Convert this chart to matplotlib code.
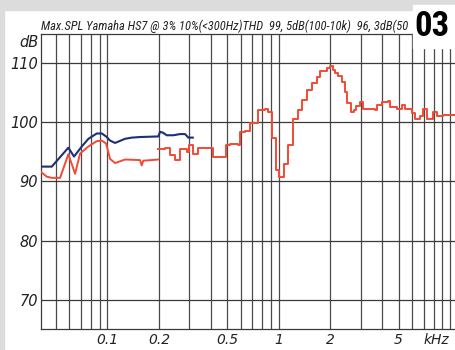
import numpy as np
import matplotlib.pyplot as plt
from matplotlib.patches import Rectangle
from matplotlib.transforms import Bbox

# blue: max SPL up to 300 Hz (10% THD)
blue_f = [41, 47.4, 59.2, 63.9, 70.9, 77.5, 86.7, 92.8, 98.3, 103.7, 110.9, 126.8,
          138.8, 155.1, 198.4, 203, 212, 222, 242.7, 265.6, 284, 296.9, 315]
blue_db = [92.5, 92.5, 95.7, 94.2, 95.9, 97.2, 98.1, 98.1, 97.6, 96.9, 96.5, 97.2,
           97.4, 97.5, 97.6, 98.4, 98.2, 97.8, 97.8, 98.0, 98.0, 97.4, 97.4]

# red: max SPL 3% THD, smooth low part then stepped part
red_f = [41, 44.3, 47.4, 53, 59.2, 64.8, 69.3, 77.5, 86.7, 92.8, 98.3, 103.7,
         110.9, 126.8, 155.1, 158.6, 162, 198.4]
red_db = [91.6, 90.8, 90.6, 90.6, 94.6, 91.3, 94.7, 95.9, 96.8, 96.9, 96.4, 93.8,
          93.1, 93.7, 93.6, 92.7, 93.5, 93.7]

step_f = [198.4, 217, 232, 248, 266, 290, 301, 318, 340, 415, 493, 520, 581, 595,
          636, 680, 760, 832, 870, 911, 964, 1008, 1074, 1138, 1217, 1302, 1362,
          1457, 1558, 1666, 1742, 1905, 1992, 2075, 2130, 2227, 2332, 2437, 2513,
          2630, 2750, 2825, 2981, 3090, 3410, 3647, 3730, 3990, 4360, 4461, 4882,
          5220, 5458, 5970, 6240, 6674, 6976, 7302, 7914, 8353, 9126, 10670]
step_db = [95.4, 95.6, 94.4, 93.6, 95.5, 95.0, 96.1, 94.7, 95.6, 94.2, 96.1, 96.3,
           96.1, 98.4, 98.6, 99.9, 102.0, 102.3, 101.7, 97.4, 91.9, 90.7, 92.9, 96.1,
           100.5, 102.0, 103.7, 105.4, 106.7, 107.6, 108.7, 109.1, 109.5, 108.8,
           108.3, 107.9, 106.8, 105.1, 103.2, 101.7, 102.0, 102.7, 103.4, 102.2,
           102.2, 102.1, 102.9, 103.4, 103.6, 102.6, 102.2, 102.9, 102.2, 101.6,
           100.5, 101.1, 102.3, 100.5, 101.7, 101.1, 101.2, 101.2]

grid_f = [50, 60, 70, 80, 90, 100, 200, 300, 400, 500, 600, 700, 800, 900,
          1000, 2000, 3000, 4000, 5000, 6000, 7000, 8000, 9000, 10000]
xtick_f = [100, 200, 500, 1000, 2000, 5000]
xtick_lab = ['0.1', '0.2', '0.5', '1', '2', '5']
ytick_db = [70, 80, 90, 100, 110]

title = 'Max.SPL Yamaha HS7 @ 3% 10%(<300Hz)THD  99, 5dB(100-10k)  96, 3dB(50'

narrow = ['Roboto Condensed', 'Liberation Sans Narrow', 'Liberation Sans', 'DejaVu Sans']

fig = plt.figure(figsize=(4.55, 3.5), dpi=100)
fig.patch.set_facecolor('white')
# grey frame at top and left
fig.patches.append(Rectangle((0, 1 - 10/350), 1, 10/350, transform=fig.transFigure,
                             color='#dcdcdc', zorder=0))
fig.patches.append(Rectangle((0, 0), 4/455, 1, transform=fig.transFigure,
                             color='#dcdcdc', zorder=0))

ax = fig.add_axes([41/455, 20.7/350, 414/455, (329.3-33.5)/350])
ax.set_xscale('log')
ax.set_xlim(41, 10670)
ax.set_ylim(65, 115)

for f in grid_f:
    ax.axvline(f, color='#4a4a4a', lw=0.9, zorder=1)
for d in ytick_db:
    ax.axhline(d, color='#3a3a3a', lw=0.9, zorder=1)

ax.plot(red_f, red_db, color='#f24a35', lw=1.4, zorder=3)
ax.plot(step_f, step_db, color='#f24a35', lw=1.4, drawstyle='steps-post', zorder=3)
ax.plot(blue_f, blue_db, color='#1c2f78', lw=1.5, zorder=4)

ax.set_xticks(xtick_f)
ax.set_xticklabels(xtick_lab, fontstyle='italic')
ax.xaxis.set_minor_locator(plt.NullLocator())
ax.set_yticks(ytick_db)
ax.set_yticklabels([str(d) for d in ytick_db], fontstyle='italic')
ax.tick_params(axis='x', length=0, labelsize=10, colors='#222222', pad=3)
ax.tick_params(axis='y', length=0, labelsize=10.5, colors='#222222', pad=2)
ax.spines['right'].set_visible(False)
for s in ['left', 'bottom', 'top']:
    ax.spines[s].set_color('#3a3a3a')
    ax.spines[s].set_linewidth(0.9)

fig.text(436/455, 1 - 340/350, 'kHz', ha='center', va='center', fontsize=10,
         style='italic', color='#222222')
fig.text(39/455, 1 - 42.5/350, 'dB', ha='right', va='center', fontsize=10.5,
         style='italic', color='#222222')
t = fig.text(41/455, 1 - 26/350, title, ha='left', va='center', fontsize=9,
             style='italic', family=narrow, color='#222222')
t.set_clip_box(Bbox([[0, 0], [413, 350]]))

# white box with the chart number
fig.patches.append(Rectangle((413/455, 1 - 48/350), 42/455, 43/350,
                             transform=fig.transFigure, color='white', zorder=5))
fig.text(432.5/455, 1 - 27/350, '03', ha='center', va='center', fontsize=25,
         weight='bold', family=narrow, color='black', zorder=6)

fig.savefig('out.png', dpi=100)
